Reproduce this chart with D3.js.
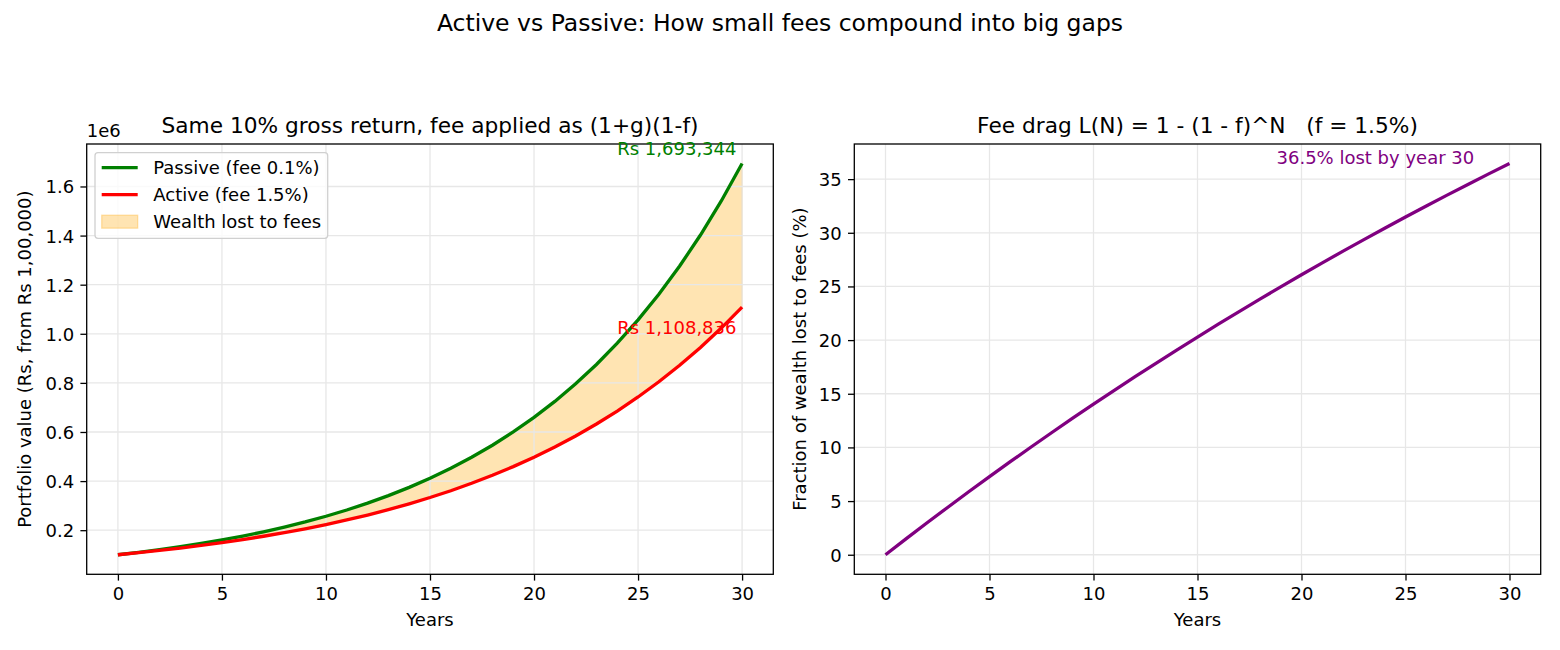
<!DOCTYPE html>
<html>
<head>
<meta charset="utf-8">
<script src="https://cdn.jsdelivr.net/npm/d3@7"></script>
<style>
    body { margin: 0; background: #fff; }
    svg text { font-family: "DejaVu Sans", sans-serif; fill: #000; }
</style>
</head>
<body>
<svg class="chart" width="1560" height="650"></svg>
<script>
// years 0..30
let years = d3.range(0, 31)

// portfolio value, Rs, start 1,00,000
let passive = [
    100000, 109890, 120758, 132701, 145825, 160247, 176096, 193512, 212650, 233681,
    256792, 282189, 310097, 340766, 374468, 411503, 452200, 496923, 546069, 600075,
    659422, 724639, 796306, 875061, 961604, 1056707, 1161215, 1276059, 1402261, 1540945,
    1693344
]
let active = [
    100000, 108350, 117397, 127200, 137821, 149329, 161798, 175308, 189947, 205807,
    222992, 241612, 261786, 283646, 307330, 332992, 360797, 390923, 423566, 458933,
    497254, 538775, 583763, 632507, 685321, 742545, 804548, 871728, 944517, 1023384,
    1108836
]

// fraction of wealth lost to fees (%)
let fee_drag = [
    0, 1.50, 2.98, 4.43, 5.87, 7.28, 8.67, 10.04, 11.39, 12.72,
    14.03, 15.32, 16.59, 17.84, 19.07, 20.28, 21.48, 22.66, 23.82, 24.96,
    26.09, 27.20, 28.29, 29.36, 30.42, 31.47, 32.49, 33.51, 34.50, 35.49,
    36.45
]

let x_ticks = [0, 5, 10, 15, 20, 25, 30]
let value_ticks = [200000, 400000, 600000, 800000, 1000000, 1200000, 1400000, 1600000]
let drag_ticks = [0, 5, 10, 15, 20, 25, 30, 35]

let legend_labels = ["Passive (fee 0.1%)", "Active (fee 1.5%)", "Wealth lost to fees"]

const left_box = {x0: 86.7, x1: 773.3, y0: 144, y1: 574.3}
const right_box = {x0: 854.3, x1: 1540.7, y0: 144, y1: 574.3}

const grid_color = "#e7e7e7"
const fill_color = "orange"

var svg = d3.select(".chart")

svg.append("text")
    .attr("x", 780)
    .attr("y", 31)
    .attr("text-anchor", "middle")
    .style("font-size", "23.5px")
    .text("Active vs Passive: How small fees compound into big gaps")

// matplotlib style 5% padding
function padded(lo, hi) {
    let m = (hi - lo) * 0.05
    return [lo - m, hi + m]
}

function draw_frame(g, box, xScale, yScale, yTicks, yFormat, title, ylabel) {
    // grid
    g.append("g")
        .selectAll("line.gx")
        .data(x_ticks)
        .enter()
        .append("line")
        .attr("x1", d => xScale(d))
        .attr("x2", d => xScale(d))
        .attr("y1", box.y0)
        .attr("y2", box.y1)
        .attr("stroke", grid_color)
        .attr("stroke-width", 1.3)

    g.append("g")
        .selectAll("line.gy")
        .data(yTicks)
        .enter()
        .append("line")
        .attr("x1", box.x0)
        .attr("x2", box.x1)
        .attr("y1", d => yScale(d))
        .attr("y2", d => yScale(d))
        .attr("stroke", grid_color)
        .attr("stroke-width", 1.3)

    // axes
    let xAxis = g.append("g")
        .attr("transform", `translate(0, ${box.y1})`)
        .call(d3.axisBottom(xScale).tickValues(x_ticks).tickSize(6.3).tickPadding(6.3).tickSizeOuter(0))
    let yAxis = g.append("g")
        .attr("transform", `translate(${box.x0}, 0)`)
        .call(d3.axisLeft(yScale).tickValues(yTicks).tickFormat(yFormat).tickSize(6.3).tickPadding(6.3).tickSizeOuter(0))

    for (let ax of [xAxis, yAxis]) {
        ax.select(".domain").remove()
        ax.selectAll(".tick line").attr("stroke", "#000").attr("stroke-width", 1.3)
        ax.selectAll(".tick text")
            .style("font-size", "18px")
            .style("font-family", "DejaVu Sans, sans-serif")
            .attr("fill", "#000")
    }
    xAxis.selectAll(".tick text").attr("dy", "0.73em")
    yAxis.selectAll(".tick text").attr("dy", "0.36em")

    g.append("text")
        .attr("x", (box.x0 + box.x1) / 2)
        .attr("y", box.y1 + 52)
        .attr("text-anchor", "middle")
        .style("font-size", "18px")
        .text("Years")

    g.append("text")
        .attr("x", (box.x0 + box.x1) / 2)
        .attr("y", box.y0 - 11)
        .attr("text-anchor", "middle")
        .style("font-size", "21.7px")
        .style("white-space", "pre")
        .attr("xml:space", "preserve")
        .text(title)

    g.append("text")
        .attr("transform", `translate(${box.x0 - (box === left_box ? 55.5 : 48.5)}, ${(box.y0 + box.y1) / 2}) rotate(-90)`)
        .attr("text-anchor", "middle")
        .style("font-size", "18px")
        .text(ylabel)
}

function draw_border(g, box) {
    g.append("rect")
        .attr("x", box.x0)
        .attr("y", box.y0)
        .attr("width", box.x1 - box.x0)
        .attr("height", box.y1 - box.y0)
        .attr("fill", "none")
        .attr("stroke", "#000")
        .attr("stroke-width", 1.3)
}

function draw_growth() {
    let g = svg.append("g")
    let box = left_box

    let xScale = d3.scaleLinear()
        .domain(padded(d3.min(years), d3.max(years)))
        .range([box.x0, box.x1])
    let yScale = d3.scaleLinear()
        .domain(padded(d3.min(active.concat(passive)), d3.max(active.concat(passive))))
        .range([box.y1, box.y0])

    // fill between
    let area = d3.area()
        .x((d, i) => xScale(years[i]))
        .y0((d, i) => yScale(active[i]))
        .y1(d => yScale(d))
    g.append("path")
        .datum(passive)
        .attr("d", area)
        .attr("fill", fill_color)
        .attr("fill-opacity", 0.3)
        .attr("stroke", fill_color)
        .attr("stroke-opacity", 0.3)
        .attr("stroke-width", 1.3)

    draw_frame(g, box, xScale, yScale, value_ticks, d => (d / 1e6).toFixed(1),
        "Same 10% gross return, fee applied as (1+g)(1-f)",
        "Portfolio value (Rs, from Rs 1,00,000)")

    let line = d3.line()
        .x((d, i) => xScale(years[i]))
        .y(d => yScale(d))

    g.append("path")
        .datum(passive)
        .attr("d", line)
        .attr("fill", "none")
        .attr("stroke", "green")
        .attr("stroke-width", 3.3)
    g.append("path")
        .datum(active)
        .attr("d", line)
        .attr("fill", "none")
        .attr("stroke", "red")
        .attr("stroke-width", 3.3)

    draw_border(g, box)

    g.append("text")
        .attr("x", box.x0)
        .attr("y", box.y0 - 7)
        .style("font-size", "18px")
        .text("1e6")

    let last = years.length - 1
    g.append("text")
        .attr("x", xScale(24))
        .attr("y", yScale(passive[last] * 1.02))
        .style("fill", "green")
        .style("font-size", "18px")
        .text("Rs " + d3.format(",")(passive[last]))
    g.append("text")
        .attr("x", xScale(24))
        .attr("y", yScale(active[last] * 0.9))
        .style("fill", "red")
        .style("font-size", "18px")
        .text("Rs " + d3.format(",")(active[last]))

    // legend
    let lg = g.append("g")
    lg.append("rect")
        .attr("x", 95)
        .attr("y", 152.7)
        .attr("width", 232.7)
        .attr("height", 85.6)
        .attr("rx", 3)
        .attr("fill", "#fff")
        .attr("fill-opacity", 0.8)
        .attr("stroke", "#d0d0d0")
        .attr("stroke-width", 1.3)

    let rows = lg.selectAll("g.row")
        .data(legend_labels)
        .enter()
        .append("g")
        .attr("transform", (d, i) => `translate(101.7, ${167.7 + i * 27})`)

    rows.filter((d, i) => i < 2)
        .append("line")
        .attr("x1", 0)
        .attr("x2", 36)
        .attr("stroke", (d, i) => i === 0 ? "green" : "red")
        .attr("stroke-width", 3.3)

    rows.filter((d, i) => i === 2)
        .append("rect")
        .attr("x", 0)
        .attr("y", -6.5)
        .attr("width", 36)
        .attr("height", 13)
        .attr("fill", fill_color)
        .attr("fill-opacity", 0.3)
        .attr("stroke", fill_color)
        .attr("stroke-opacity", 0.3)
        .attr("stroke-width", 1.3)

    rows.append("text")
        .attr("x", 51.6)
        .attr("y", 6.3)
        .style("font-size", "18px")
        .text(d => d)
}

function draw_drag() {
    let g = svg.append("g")
    let box = right_box

    let xScale = d3.scaleLinear()
        .domain(padded(d3.min(years), d3.max(years)))
        .range([box.x0, box.x1])
    let yScale = d3.scaleLinear()
        .domain(padded(d3.min(fee_drag), d3.max(fee_drag)))
        .range([box.y1, box.y0])

    draw_frame(g, box, xScale, yScale, drag_ticks, d => d,
        "Fee drag L(N) = 1 - (1 - f)^N   (f = 1.5%)",
        "Fraction of wealth lost to fees (%)")

    let line = d3.line()
        .x((d, i) => xScale(years[i]))
        .y(d => yScale(d))

    g.append("path")
        .datum(fee_drag)
        .attr("d", line)
        .attr("fill", "none")
        .attr("stroke", "purple")
        .attr("stroke-width", 3.3)

    draw_border(g, box)

    let last = years.length - 1
    g.append("text")
        .attr("x", xScale(18.8))
        .attr("y", yScale(fee_drag[last]))
        .style("fill", "purple")
        .style("font-size", "18px")
        .text(fee_drag[last].toFixed(1) + "% lost by year 30")
}

draw_growth()
draw_drag()
</script>
</body>
</html>
